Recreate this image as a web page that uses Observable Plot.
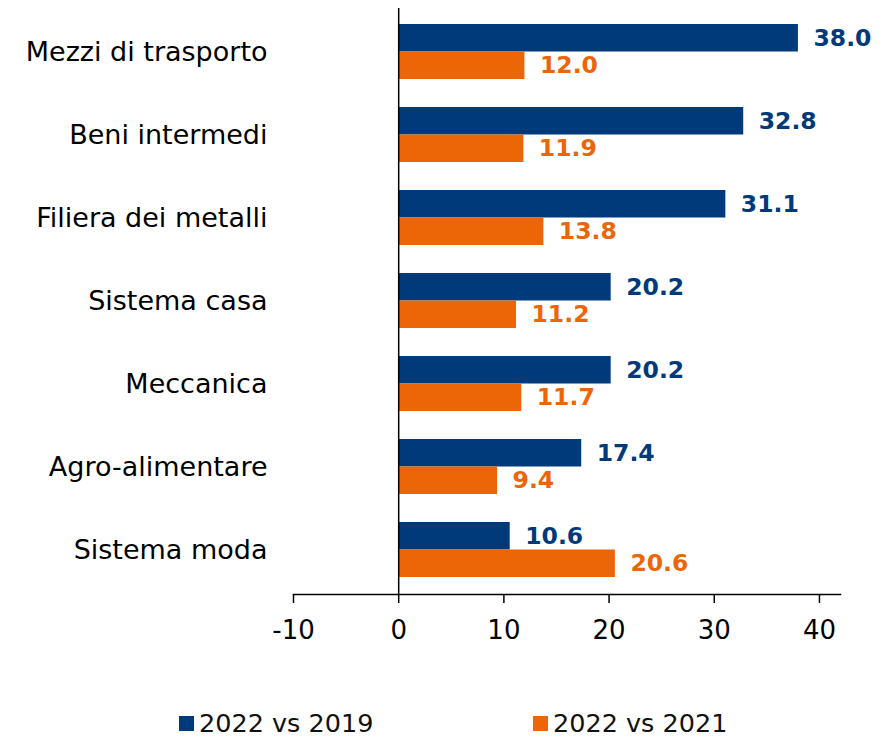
<!DOCTYPE html>
<html>
<head>
<meta charset="utf-8">
<script src="https://cdn.jsdelivr.net/npm/d3@7"></script>
<script src="https://cdn.jsdelivr.net/npm/@observablehq/plot@0.6"></script>
<style>
  body { margin: 0; background: #fff; font-family: "DejaVu Sans", sans-serif; }
  #wrap { position: relative; width: 885px; height: 737px; }
  #legend { position: absolute; left: 0; top: 708px; width: 885px; height: 29px; }
  .item { position: absolute; top: 0px; display: flex; align-items: center; font-size: 25.5px; color: #111; white-space: nowrap; }
  .sw { width: 15px; height: 15px; margin-right: 5px; }
</style>
</head>
<body>
<div id="wrap">
  <div id="chart"></div>
  <div id="legend"></div>
</div>
<script>
const categories = ["Mezzi di trasporto", "Beni intermedi", "Filiera dei metalli", "Sistema casa", "Meccanica", "Agro-alimentare", "Sistema moda"];
const series = ["2022 vs 2019", "2022 vs 2021"];
const vs2019 = [38.0, 32.8, 31.1, 20.2, 20.2, 17.4, 10.6];
const vs2021 = [12.0, 11.9, 13.8, 11.2, 11.7, 9.4, 20.6];
const colors = ["#003A7A", "#EC6608"];
const xTicks = [-10, 0, 10, 20, 30, 40];

const rows = [];
categories.forEach((c, i) => {
  rows.push({cat: c, series: series[0], value: vs2019[i]});
  rows.push({cat: c, series: series[1], value: vs2021[i]});
});
const A = rows.filter(d => d.series === series[0]);
const B = rows.filter(d => d.series === series[1]);

const half = 27.5;
const chart = Plot.plot({
  width: 885,
  height: 690,
  marginLeft: 293,
  marginRight: 45,
  marginTop: 8,
  marginBottom: 96,
  style: {fontFamily: "DejaVu Sans, sans-serif", background: "#fff"},
  x: {domain: [-10, 42], label: null},
  y: {domain: categories, paddingInner: 0.335, paddingOuter: 0.17, label: null},
  marks: [
    Plot.barX(A, {x: "value", y: "cat", fill: colors[0], insetBottom: half}),
    Plot.barX(B, {x: "value", y: "cat", fill: colors[1], insetTop: half}),
    Plot.text(A, {x: "value", y: "cat", text: d => d.value.toFixed(1), dx: 15, dy: -half / 2, textAnchor: "start", fill: colors[0], fontWeight: "bold", fontSize: 23.5}),
    Plot.text(B, {x: "value", y: "cat", text: d => d.value.toFixed(1), dx: 15, dy: half / 2, textAnchor: "start", fill: colors[1], fontWeight: "bold", fontSize: 23.5}),
    Plot.ruleX([0], {stroke: "#000", strokeWidth: 1.5}),
    Plot.frame({anchor: "bottom", stroke: "#000", strokeWidth: 1.5}),
    Plot.axisX({ticks: xTicks, tickSize: 9, tickPadding: 17, fontSize: 26, tickFormat: d => String(d), stroke: "#000", strokeWidth: 1.5, label: null}),
    Plot.axisY({tickSize: 0, tickPadding: 26, fontSize: 27, label: null})
  ]
});
document.getElementById("chart").appendChild(chart);

const legend = document.getElementById("legend");
const legendX = [179, 533];
series.forEach((s, i) => {
  const it = document.createElement("div");
  it.className = "item";
  it.style.left = legendX[i] + "px";
  it.innerHTML = `<span class="sw" style="background:${colors[i]}"></span><span>${s}</span>`;
  legend.appendChild(it);
});
</script>
</body>
</html>
